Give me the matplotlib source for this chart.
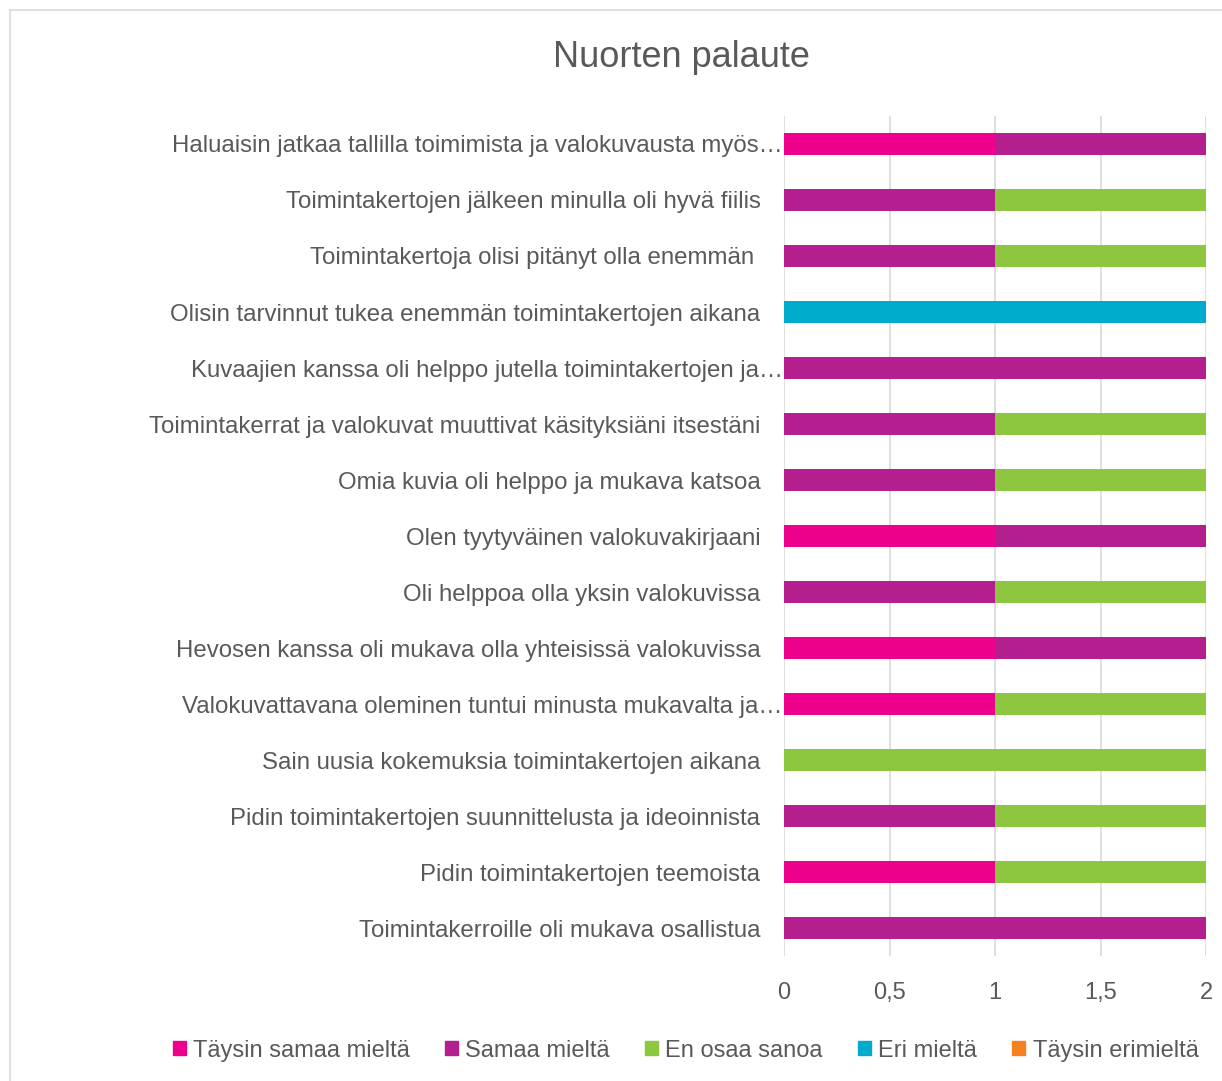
import matplotlib.pyplot as plt
import matplotlib.patches as mpatches
import numpy as np

# ******************************************************************

categories = [
    "Haluaisin jatkaa tallilla toimimista ja valokuvausta myös…",
    "Toimintakertojen jälkeen minulla oli hyvä fiilis",
    "Toimintakertoja olisi pitänyt olla enemmän ",
    "Olisin tarvinnut tukea enemmän toimintakertojen aikana",
    "Kuvaajien kanssa oli helppo jutella toimintakertojen ja…",
    "Toimintakerrat ja valokuvat muuttivat käsityksiäni itsestäni",
    "Omia kuvia oli helppo ja mukava katsoa",
    "Olen tyytyväinen valokuvakirjaani",
    "Oli helppoa olla yksin valokuvissa",
    "Hevosen kanssa oli mukava olla yhteisissä valokuvissa",
    "Valokuvattavana oleminen tuntui minusta mukavalta ja…",
    "Sain uusia kokemuksia toimintakertojen aikana",
    "Pidin toimintakertojen suunnittelusta ja ideoinnista",
    "Pidin toimintakertojen teemoista",
    "Toimintakerroille oli mukava osallistua",
]

series_names = ["Täysin samaa mieltä", "Samaa mieltä", "En osaa sanoa",
                "Eri mieltä", "Täysin erimieltä"]
series_colors = ["#EC008C", "#B41E8E", "#8DC63F", "#00ACCD", "#F58220"]

taysin_samaa = [1, 0, 0, 0, 0, 0, 0, 1, 0, 1, 1, 0, 0, 1, 0]
samaa = [1, 1, 1, 0, 2, 1, 1, 1, 1, 1, 0, 0, 1, 0, 2]
en_osaa = [0, 1, 1, 0, 0, 1, 1, 0, 1, 0, 1, 2, 1, 1, 0]
eri = [0, 0, 0, 2, 0, 0, 0, 0, 0, 0, 0, 0, 0, 0, 0]
taysin_eri = [0, 0, 0, 0, 0, 0, 0, 0, 0, 0, 0, 0, 0, 0, 0]

xticks = [0, 0.5, 1, 1.5, 2]
xtick_labels = ["0", "0,5", "1", "1,5", "2"]

# ******************************************************************

text_color = "#595959"
grid_color = "#D9D9D9"
plt.rcParams['font.family'] = ['Liberation Sans', 'DejaVu Sans']

fig = plt.figure(figsize=(12.22, 10.81), dpi=100)
ax = fig.add_axes([0.6416, 0.1156, 0.9869 - 0.6416, 0.8927 - 0.1156])

# outer chart border
fig.patches.append(mpatches.Rectangle((10 / 1222, -0.01), 1.0, 1 - 10 / 1081 + 0.01,
                                      transform=fig.transFigure, fill=False,
                                      edgecolor=grid_color, linewidth=1.2))

y = np.arange(len(categories))
all_series = [taysin_samaa, samaa, en_osaa, eri, taysin_eri]
left = np.zeros(len(categories))
for name, vals, col in zip(series_names, all_series, series_colors):
    vals = np.array(vals, dtype=float)
    ax.barh(y, vals, left=left, height=0.39, color=col, label=name, zorder=3)
    left += vals

ax.set_xlim(0, 2)
ax.set_ylim(len(categories) - 0.5, -0.5)
ax.set_xticks(xticks)
ax.set_xticklabels(xtick_labels)
ax.set_yticks(y)
ax.set_yticklabels(categories)
ax.tick_params(axis='y', length=0, labelsize=17.3, labelcolor=text_color, pad=17)
ax.tick_params(axis='x', length=0, labelsize=17, labelcolor=text_color, pad=19)
for i, lab in enumerate(categories):
    if lab.endswith("…"):
        ax.yaxis.get_major_ticks()[i].set_pad(1)

ax.grid(axis='x', color=grid_color, linewidth=1.2, zorder=0)
for s in ax.spines.values():
    s.set_visible(False)

fig.text(0.558, 0.947, "Nuorten palaute", ha='center', va='center',
         fontsize=26, color=text_color)

handles = [mpatches.Patch(color=c) for c in series_colors]
fig.legend(handles, series_names, loc='center', bbox_to_anchor=(0.561, 0.028),
           ncol=5, frameon=False, fontsize=17, labelcolor=text_color,
           handlelength=0.55, handleheight=0.55, handletextpad=0.3,
           columnspacing=1.5)

fig.savefig("out.png", dpi=100)
